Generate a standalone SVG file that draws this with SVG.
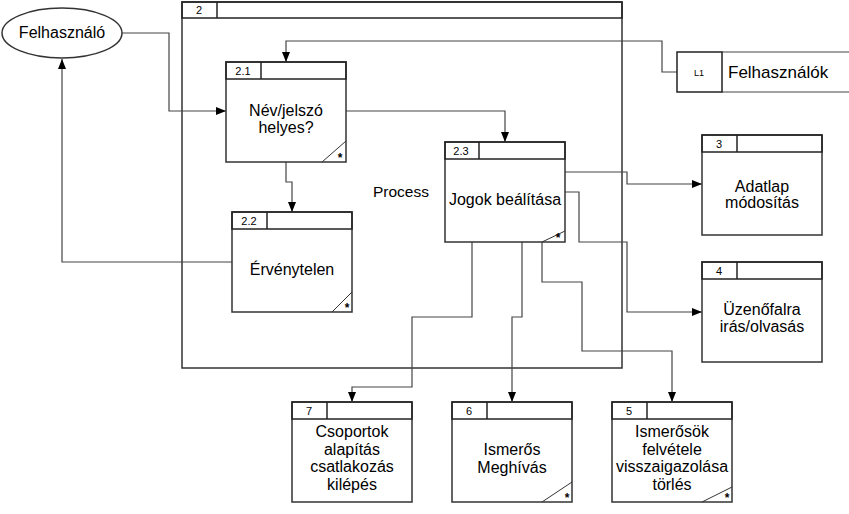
<svg xmlns="http://www.w3.org/2000/svg" width="849" height="514" viewBox="0 0 849 514">
<defs>
<marker id="ah" viewBox="0 0 10 10" refX="10" refY="5" markerWidth="10" markerHeight="10" markerUnits="userSpaceOnUse" orient="auto">
<path d="M0,1 L10,5 L0,9 Z" fill="#000"/>
</marker>
<style>
.box{fill:#fff;stroke:#333;stroke-width:1.5}
.hdr{fill:none;stroke:#222;stroke-width:1.5}
.c{fill:none;stroke:#444;stroke-width:1.2}
.ca{fill:none;stroke:#444;stroke-width:1.2;marker-end:url(#ah)}
.t{font-family:"Liberation Sans",Arial,sans-serif;font-size:16px;fill:#000;text-anchor:middle}
.n{font-family:"Liberation Sans",Arial,sans-serif;font-size:11px;fill:#000;text-anchor:middle}
.s{fill:none;stroke:#333;stroke-width:1}
.st{font-family:"Liberation Sans",Arial,sans-serif;font-size:9px;fill:#000;text-anchor:middle}
.ast{font-family:"Liberation Sans",Arial,sans-serif;font-size:12px;font-weight:bold;fill:#000;text-anchor:middle}
</style>
</defs>
<rect width="849" height="514" fill="#fff"/>

<g id="process2">
<rect class="box" x="182" y="2" width="440" height="366"/>
<rect class="hdr" x="182" y="2" width="440" height="16"/>
<line class="hdr" x1="217" y1="2" x2="217" y2="18"/>
<text class="n" x="199" y="14">2</text>
<text class="t" x="401" y="197" style="font-size:15.5px">Process</text>
</g>

<g id="connectors">
<polyline class="ca" points="122,33 169,33 169,111 226,111"/>
<polyline class="ca" points="677,72 662,72 662,41 286,41 286,62"/>
<polyline class="ca" points="346,111 505,111 505,142"/>
<polyline class="ca" points="286,162 286,182 292,182 292,212"/>
<polyline class="ca" points="232,262 62,262 62,59"/>
<polyline class="ca" points="563,172 627,172 627,184 702,184"/>
<polyline class="ca" points="565,192 579,192 579,242 627,242 627,312 702,312"/>
<polyline class="ca" points="542,242 542,282 582,282 582,351 672,351 672,402"/>
<polyline class="ca" points="522,242 522,317 512,317 512,402"/>
<polyline class="ca" points="472,242 472,317 412,317 412,387 352,387 352,402"/>
</g>

<g id="felhasznalo">
<ellipse cx="62" cy="33" rx="60" ry="25" fill="#fff" stroke="#333" stroke-width="1.5"/>
<text class="t" x="62" y="38">Felhasználó</text>
</g>

<g id="L1">
<line class="c" x1="722" y1="52" x2="849" y2="52"/>
<line class="c" x1="722" y1="92" x2="849" y2="92"/>
<rect class="hdr" x="677" y="52" width="45" height="40" fill="#fff"/>
<text class="st" x="699" y="76">L1</text>
<text x="728" y="78" font-family="Liberation Sans, Arial, sans-serif" font-size="17" fill="#000">Felhasználók</text>
</g>

<g id="p2_1">
<rect class="box" x="226" y="62" width="120" height="100"/>
<rect class="hdr" x="226" y="62" width="120" height="17"/>
<line class="hdr" x1="261" y1="62" x2="261" y2="79"/>
<text class="n" x="243" y="75">2.1</text>
<text class="t" x="286" y="116">Név/jelszó</text>
<text class="t" x="286" y="133">helyes?</text>
<line class="s" x1="322" y1="162" x2="346" y2="141"/>
<text class="ast" x="340" y="162">*</text>
</g>

<g id="p2_2">
<rect class="box" x="232" y="212" width="120" height="100"/>
<rect class="hdr" x="232" y="212" width="120" height="17"/>
<line class="hdr" x1="267" y1="212" x2="267" y2="229"/>
<text class="n" x="249" y="225">2.2</text>
<text class="t" x="292" y="275">Érvénytelen</text>
<line class="s" x1="332" y1="312" x2="352" y2="292"/>
<text class="ast" x="347" y="312">*</text>
</g>

<g id="p2_3">
<rect class="box" x="445" y="142" width="120" height="100"/>
<rect class="hdr" x="445" y="142" width="120" height="17"/>
<line class="hdr" x1="479" y1="142" x2="479" y2="159"/>
<text class="n" x="461" y="155">2.3</text>
<text class="t" x="505" y="205">Jogok beálítása</text>
<line class="s" x1="542" y1="242" x2="565" y2="231"/>
<text class="ast" x="558" y="242">*</text>
</g>

<g id="p3">
<rect class="box" x="702" y="135" width="120" height="100"/>
<rect class="hdr" x="702" y="135" width="120" height="17"/>
<line class="hdr" x1="737" y1="135" x2="737" y2="152"/>
<text class="n" x="719" y="148">3</text>
<text class="t" x="762" y="192">Adatlap</text>
<text class="t" x="762" y="208">módosítás</text>
</g>

<g id="p4">
<rect class="box" x="702" y="262" width="120" height="100"/>
<rect class="hdr" x="702" y="262" width="120" height="17"/>
<line class="hdr" x1="737" y1="262" x2="737" y2="279"/>
<text class="n" x="719" y="275">4</text>
<text class="t" x="762" y="315">Üzenőfalra</text>
<text class="t" x="762" y="332">irás/olvasás</text>
</g>

<g id="p7">
<rect class="box" x="292" y="402" width="120" height="100"/>
<rect class="hdr" x="292" y="402" width="120" height="17"/>
<line class="hdr" x1="327" y1="402" x2="327" y2="419"/>
<text class="n" x="309" y="415">7</text>
<text class="t" x="352" y="437">Csoportok</text>
<text class="t" x="352" y="455">alapítás</text>
<text class="t" x="352" y="472">csatlakozás</text>
<text class="t" x="352" y="490">kilépés</text>
</g>

<g id="p6">
<rect class="box" x="452" y="402" width="120" height="100"/>
<rect class="hdr" x="452" y="402" width="120" height="17"/>
<line class="hdr" x1="487" y1="402" x2="487" y2="419"/>
<text class="n" x="469" y="415">6</text>
<text class="t" x="512" y="455">Ismerős</text>
<text class="t" x="512" y="473">Meghívás</text>
<line class="s" x1="542" y1="502" x2="572" y2="482"/>
<text class="ast" x="567" y="502">*</text>
</g>

<g id="p5">
<rect class="box" x="612" y="402" width="120" height="100"/>
<rect class="hdr" x="612" y="402" width="120" height="17"/>
<line class="hdr" x1="647" y1="402" x2="647" y2="419"/>
<text class="n" x="629" y="415">5</text>
<text class="t" x="672" y="437">Ismerősök</text>
<text class="t" x="672" y="455">felvétele</text>
<text class="t" x="672" y="472">visszaigazolása</text>
<text class="t" x="672" y="490">törlés</text>
<line class="s" x1="702" y1="502" x2="732" y2="487"/>
<text class="ast" x="727" y="502">*</text>
</g>
</svg>
